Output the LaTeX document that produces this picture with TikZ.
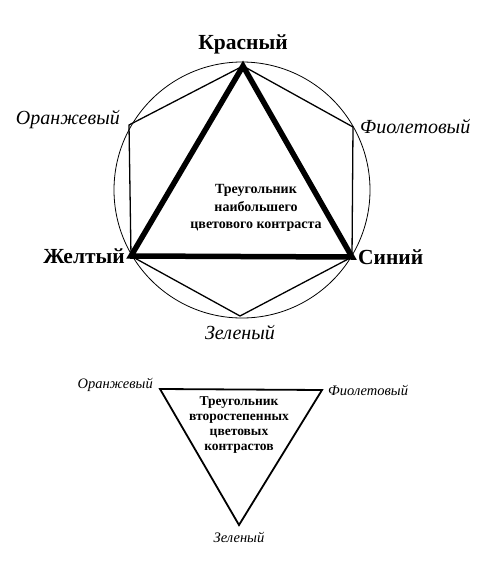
\documentclass[tikz,border=0pt]{standalone}
\usepackage{fontspec}
\setmainfont{Liberation Serif}
\usetikzlibrary{positioning}

\begin{document}
\begin{tikzpicture}[
  x=1pt, y=-1pt,
  primary/.style={inner sep=1pt, font=\bfseries\fontsize{21.5}{24}\selectfont},
  mixed/.style={inner sep=1pt, font=\itshape\fontsize{20}{23}\selectfont},
  minor/.style={inner sep=1pt, font=\itshape\fontsize{14.5}{16}\selectfont},
  caption/.style={align=center, font=\bfseries\fontsize{14}{17.5}\selectfont},
  wheel/.style={line width=0.8pt},
  hexline/.style={line width=1.3pt, line join=miter},
  maintri/.style={line width=5.5pt, line join=miter},
  subtri/.style={line width=1.8pt, line join=miter}
]
  \useasboundingbox (0,0) rectangle (500,562);

  % Colour circle with hexagon
  \node[draw, wheel, circle, minimum size=256pt, inner sep=0pt] (wheel) at (242,190) {};
  \coordinate (red) at (243,66);
  \coordinate (orange) at (129,125);
  \coordinate (violet) at (353,127);
  \coordinate (yellow) at (131,256);
  \coordinate (blue) at (352,257);
  \coordinate (green) at (240,316);
  \draw[hexline] (red) -- (violet) -- (blue) -- (green) -- (yellow) -- (orange) -- cycle;

  % Triangle of primaries
  \draw[maintri] (red) -- (blue) -- (yellow) -- cycle;
  \node[caption] (maincap) at (256,208) {Треугольник\\наибольшего\\цветового контраста};

  % Colour names
  \node[primary, above=11pt of red] (redlbl) {Красный};
  \node[primary, left=5pt of yellow] (yellowlbl) {Желтый};
  \node[primary, right=5pt of blue] (bluelbl) {Синий};
  \node[mixed, left=8pt of orange, yshift=5pt] (orangelbl) {Оранжевый};
  \node[mixed, right=6pt of violet] (violetlbl) {Фиолетовый};
  \node[mixed, below=8pt of green] (greenlbl) {Зеленый};

  % Triangle of secondaries
  \coordinate (orange2) at (160,389);
  \coordinate (violet2) at (322,390);
  \coordinate (green2) at (239,525);
  \draw[subtri] (orange2) -- (violet2) -- (green2) -- cycle;
  \node[caption, font=\bfseries\fontsize{13.5}{14.7}\selectfont] (subcap) at (239,425)
    {Треугольник\\второстепенных\\цветовых\\контрастов};
  \node[minor, left=6pt of orange2, yshift=4pt] (orange2lbl) {Оранжевый};
  \node[minor, right=5pt of violet2] (violet2lbl) {Фиолетовый};
  \node[minor, below=6pt of green2] (green2lbl) {Зеленый};
\end{tikzpicture}
\end{document}
